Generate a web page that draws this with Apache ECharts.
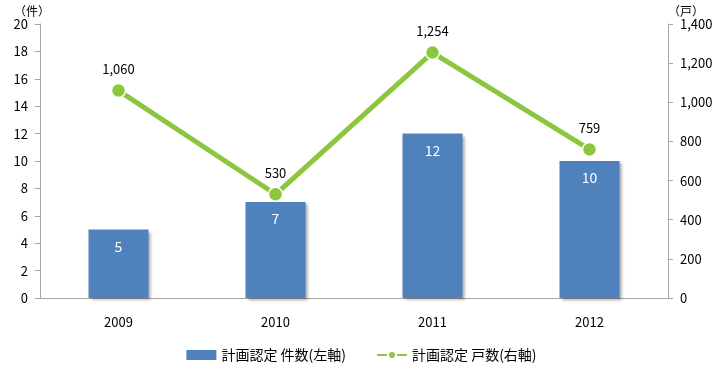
<!DOCTYPE html>
<html><head><meta charset="utf-8">
<script src="https://cdn.jsdelivr.net/npm/echarts@6/dist/echarts.min.js"></script>
<style>html,body{margin:0;padding:0;background:#fff}#c{width:723px;height:372px}</style>
</head><body><div id="c"></div>
<script>
const categories = ['2009', '2010', '2011', '2012'];
const countValues = [5, 7, 12, 10];
const unitValues = [1060, 530, 1254, 759];
const seriesNames = ['計画認定 件数(左軸)', '計画認定 戸数(右軸)'];

const font = '"Noto Sans CJK JP", "Noto Sans", sans-serif';
const chart = echarts.init(document.getElementById('c'));
chart.setOption({
  animation: false,
  textStyle: { fontFamily: font },
  grid: { left: 40, right: 55, top: 24, bottom: 74 },
  legend: {
    bottom: 5, left: 'center', itemGap: 30,
    textStyle: { fontSize: 14, color: '#000', fontFamily: font },
    data: [
      { name: seriesNames[0], icon: 'rect', itemWidth: 30, itemHeight: 6 },
      { name: seriesNames[1] }
    ],
    itemWidth: 30, itemHeight: 10
  },
  xAxis: {
    type: 'category', data: categories,
    axisLine: { lineStyle: { color: '#a6a6a6', width: 1 } },
    axisTick: { show: false },
    axisLabel: { color: '#000', fontSize: 13, margin: 18, fontFamily: font }
  },
  yAxis: [
    {
      type: 'value', min: 0, max: 20, interval: 2, name: '（件）',
      nameGap: 6, nameTextStyle: { color: '#000', fontSize: 12, align: 'right', padding: [0, -10, 0, 0] },
      axisLine: { show: true, lineStyle: { color: '#a6a6a6' } },
      axisTick: { show: true, length: 5, lineStyle: { color: '#a6a6a6' } },
      splitLine: { show: false },
      axisLabel: { color: '#000', fontSize: 13, margin: 12, fontFamily: font }
    },
    {
      type: 'value', min: 0, max: 1400, interval: 200, name: '（戸）',
      nameGap: 6, nameTextStyle: { color: '#000', fontSize: 12, align: 'left', padding: [0, 0, 0, 0] },
      axisLine: { show: true, lineStyle: { color: '#a6a6a6' } },
      axisTick: { show: true, length: 5, lineStyle: { color: '#a6a6a6' } },
      splitLine: { show: false },
      axisLabel: { color: '#000', fontSize: 13, margin: 12, fontFamily: font,
        formatter: v => v.toLocaleString('en-US') }
    }
  ],
  series: [
    {
      name: seriesNames[0], type: 'bar', yAxisIndex: 0, data: countValues,
      barWidth: 60,
      itemStyle: { color: '#4f81bd', shadowColor: 'rgba(0,0,0,0.35)', shadowBlur: 3, shadowOffsetX: 2, shadowOffsetY: 2 },
      label: { show: true, position: 'insideTop', distance: 10, color: '#fff', fontSize: 14, fontFamily: font }
    },
    {
      name: seriesNames[1], type: 'line', yAxisIndex: 1, data: unitValues,
      symbol: 'circle', symbolSize: 14,
      lineStyle: { color: '#8cc63f', width: 5 },
      itemStyle: { color: '#8cc63f', borderColor: '#fff', borderWidth: 1.5 },
      label: { show: true, position: 'top', distance: 7, color: '#000', fontSize: 13, fontFamily: font,
        formatter: p => p.value.toLocaleString('en-US') }
    }
  ]
});
</script></body></html>
